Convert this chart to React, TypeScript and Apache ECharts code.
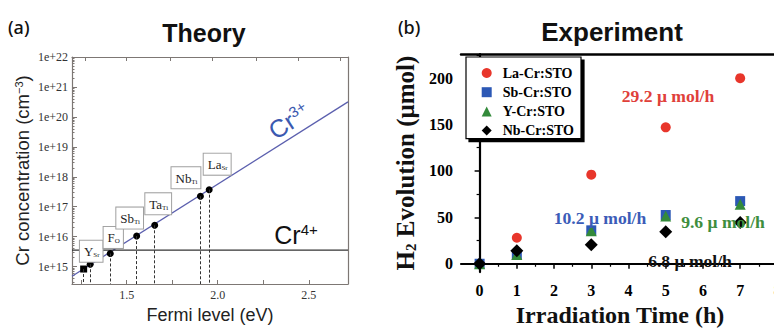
import { useEffect, useRef } from "react";
import * as echarts from "echarts";

// ---------- Panel (a) Theory ----------
const defectMain = ["Y", "F", "Sb", "Ta", "Nb", "La"];
const defectSub = ["Sr", "O", "Ti", "Ti", "Ti", "Sr"];
const defectFermi = [1.3, 1.41, 1.555, 1.654, 1.905, 1.953];
const defectLogConc = [15.08, 15.44, 16.02, 16.38, 17.35, 17.57];
const squareFermi = [1.264];
const squareLogConc = [14.92];
const cr3Fermi = [1.2, 2.715];
const cr3LogConc = [14.68, 20.5];
const cr4LogConc = 15.55;
const fermiLabelValues = [1.5, 2.0, 2.5];
const fermiTickValues = [1.25, 1.5, 1.75, 2.0, 2.25, 2.5];
const fermiTopTicks = [1.27, 1.5, 1.74, 1.97, 2.21, 2.44, 2.67];
const concExponents = [15, 16, 17, 18, 19, 20, 21, 22];

// ---------- Panel (b) Experiment ----------
const hours = [0, 1, 3, 5, 7];
const laCr = [0, 28, 96, 147, 200];
const sbCr = [0, 9.4, 36, 52.5, 67.5];
const yCr = [0, 10, 35.5, 51.5, 64];
const nbCr = [0, 14, 20.5, 34.5, 44.5];
const seriesNames = ["La-Cr:STO", "Sb-Cr:STO", "Y-Cr:STO", "Nb-Cr:STO"];
const timeLabels = [0, 1, 2, 3, 4, 5, 6, 7, 8];
const timeMinorTicks = [0.5, 1.5, 2.5, 3.5, 4.5, 5.5, 6.5, 7.5];
const evoLabels = [0, 50, 100, 150, 200];
const evoMinorTicks = [25, 75, 125, 175, 225];
const rateTexts = ["29.2 μ mol/h", "10.2 μ mol/h", "9.6 μ mol/h", "6.8 μ mol/h"];

const X_A_MIN = 1.2;
const X_A_MAX = 2.715;
const Y_A_MIN = 14.42;
const Y_A_MAX = 22;

const labelOffsets = [
  [1, -13],
  [3, -16],
  [-7, -18],
  [3.5, -21.5],
  [-14.5, -18.5],
  [8, -25.5],
];

const minorLogTicks: number[] = [];
for (let n = 14; n < 22; n++) {
  for (let k = 2; k <= 9; k++) {
    const v = n + Math.log10(k);
    if (v > Y_A_MIN && v < Y_A_MAX) minorLogTicks.push(v);
  }
}

const SERIF = "Liberation Serif";
const SANS = "Liberation Sans";

export default function App() {
  const ref = useRef<HTMLDivElement>(null);
  useEffect(() => {
    if (!ref.current) return;
    const chart = echarts.init(ref.current, undefined, { renderer: "svg" });
    const frameA = "#7d7774";

    const defectData = defectFermi.map((f, i) => ({
      value: [f, defectLogConc[i]],
      label: {
        offset: labelOffsets[i],
        formatter: `{m|${defectMain[i]}}{s|${defectSub[i]}}`,
      },
    }));
    const dropLines = (xs: number[], ys: number[]) =>
      xs.map((f, i) => [{ coord: [f, ys[i]] }, { coord: [f, Y_A_MIN] }]);

    const rateText = (txt: string, x: number, y: number, color: string) => ({
      type: "text",
      x,
      y,
      scaleX: 1.1,
      z: 50,
      zlevel: 1,
      style: {
        text: txt,
        fontFamily: SERIF,
        fontSize: 16,
        fontWeight: "bold",
        fill: color,
        textAlign: "center",
        textVerticalAlign: "middle",
      },
    });

    const option: any = {
      animation: false,
      backgroundColor: "#ffffff",
      grid: [
        { left: 72, top: 57, width: 276, height: 227, show: false },
        { left: 461, top: 54, width: 335, height: 230.3, show: false },
      ],
      legend: {
        data: seriesNames,
        orient: "vertical",
        left: 466,
        top: 57,
        itemWidth: 10,
        itemHeight: 10,
        itemGap: 5.2,
        padding: [9, 7, 1, 15.7],
        selectedMode: false,
        backgroundColor: "#fff",
        borderColor: "#000",
        borderWidth: 1.2,
        shadowColor: "#000",
        shadowOffsetX: 3,
        shadowOffsetY: 3,
        shadowBlur: 0,
        z: 10,
        textStyle: {
          fontFamily: SERIF,
          fontWeight: "bold",
          fontSize: 14,
          color: "#000",
          lineHeight: 12,
          padding: [0, 0, 0, 6],
        },
      },
      xAxis: [
        {
          gridIndex: 0,
          type: "value",
          position: "bottom",
          min: X_A_MIN,
          max: X_A_MAX,
          name: "Fermi level (eV)",
          nameLocation: "middle",
          nameGap: 21,
          nameTextStyle: { fontFamily: SANS, fontSize: 18, color: "#222" },
          axisLine: { show: true, lineStyle: { color: frameA, width: 1.2 } },
          axisTick: { show: true, inside: true, length: 4, customValues: fermiTickValues, lineStyle: { color: frameA } },
          axisLabel: {
            customValues: fermiLabelValues,
            formatter: (v: number) => v.toFixed(1),
            fontFamily: SERIF,
            fontSize: 12,
            color: "#333",
            margin: 5,
          },
          splitLine: { show: false },
        },
        {
          gridIndex: 0,
          type: "value",
          position: "top",
          min: X_A_MIN,
          max: X_A_MAX,
          axisLine: { show: true, lineStyle: { color: frameA, width: 1.2 } },
          axisTick: { show: true, inside: true, length: 4, customValues: fermiTopTicks, lineStyle: { color: frameA } },
          axisLabel: { show: false },
          splitLine: { show: false },
        },
        {
          gridIndex: 1,
          type: "value",
          position: "bottom",
          min: -0.5,
          max: 8.5,
          name: "Irradiation Time (h)",
          nameLocation: "middle",
          nameGap: 26,
          nameTextStyle: {
            fontFamily: SERIF,
            fontWeight: "bold",
            fontSize: 24,
            color: "#111",
            padding: [0, 17, 0, 0],
          },
          axisLine: { show: true, lineStyle: { color: "#000", width: 2.2 } },
          axisTick: { show: true, inside: false, length: 5, customValues: timeLabels, lineStyle: { color: "#000", width: 1.5 } },
          axisLabel: {
            customValues: timeLabels,
            fontFamily: SERIF,
            fontWeight: "bold",
            fontSize: 16,
            color: "#000",
            margin: 10,
          },
          splitLine: { show: false },
        },
        {
          gridIndex: 1,
          type: "value",
          position: "bottom",
          min: -0.5,
          max: 8.5,
          axisLine: { show: false },
          axisTick: { show: true, inside: false, length: 3, customValues: timeMinorTicks, lineStyle: { color: "#000", width: 1.2 } },
          axisLabel: { show: false },
          splitLine: { show: false },
        },
        {
          gridIndex: 1,
          type: "value",
          position: "top",
          min: -0.5,
          max: 8.5,
          axisLine: { show: true, lineStyle: { color: "#000", width: 2.5 } },
          axisTick: { show: false },
          axisLabel: { show: false },
          splitLine: { show: false },
        },
      ],
      yAxis: [
        {
          gridIndex: 0,
          type: "value",
          position: "left",
          min: Y_A_MIN,
          max: Y_A_MAX,
          name: "Cr concentration (cm{sup|−3})",
          nameLocation: "middle",
          nameGap: 40,
          nameTextStyle: {
            fontFamily: SANS,
            fontSize: 18.5,
            color: "#222",
            rich: { sup: { fontFamily: SANS, fontSize: 11, verticalAlign: "top", color: "#222" } },
          },
          axisLine: { show: true, lineStyle: { color: frameA, width: 1.2 } },
          axisTick: { show: true, inside: true, length: 5, customValues: concExponents, lineStyle: { color: frameA } },
          axisLabel: {
            customValues: concExponents,
            formatter: (v: number) => `1e+${Math.round(v)}`,
            fontFamily: SERIF,
            fontSize: 12,
            color: "#333",
            margin: 4,
          },
          splitLine: { show: false },
        },
        {
          gridIndex: 0,
          type: "value",
          position: "left",
          min: Y_A_MIN,
          max: Y_A_MAX,
          axisLine: { show: false },
          axisTick: { show: true, inside: true, length: 2.5, customValues: minorLogTicks, lineStyle: { color: frameA } },
          axisLabel: { show: false },
          splitLine: { show: false },
        },
        {
          gridIndex: 0,
          type: "value",
          position: "right",
          min: Y_A_MIN,
          max: Y_A_MAX,
          axisLine: { show: true, lineStyle: { color: frameA, width: 1.2 } },
          axisTick: { show: false },
          axisLabel: { show: false },
          splitLine: { show: false },
        },
        {
          gridIndex: 1,
          type: "value",
          position: "left",
          min: -9,
          max: 226,
          name: "H{sub|2} Evolution (μmol)",
          nameLocation: "middle",
          nameGap: 43,
          nameTextStyle: {
            fontFamily: SERIF,
            fontWeight: "bold",
            fontSize: 25,
            color: "#111",
            rich: { sub: { fontFamily: SERIF, fontWeight: "bold", fontSize: 15, verticalAlign: "bottom", color: "#111" } },
          },
          axisLine: { show: true, lineStyle: { color: "#000", width: 2.2 } },
          axisTick: { show: true, inside: false, length: 5, customValues: evoLabels, lineStyle: { color: "#000", width: 1.5 } },
          axisLabel: {
            customValues: evoLabels,
            fontFamily: SERIF,
            fontWeight: "bold",
            fontSize: 16,
            color: "#000",
            margin: 8,
          },
          splitLine: { show: false },
        },
        {
          gridIndex: 1,
          type: "value",
          position: "left",
          min: -9,
          max: 226,
          axisLine: { show: false },
          axisTick: { show: true, inside: false, length: 3, customValues: evoMinorTicks, lineStyle: { color: "#000", width: 1.2 } },
          axisLabel: { show: false },
          splitLine: { show: false },
        },
      ],
      series: [
        {
          name: "Cr3+",
          type: "line",
          xAxisIndex: 0,
          yAxisIndex: 0,
          data: cr3Fermi.map((f, i) => [f, cr3LogConc[i]]),
          symbol: "none",
          lineStyle: { color: "#5b5fae", width: 1.3 },
          z: 2,
        },
        {
          name: "Cr4+",
          type: "line",
          xAxisIndex: 0,
          yAxisIndex: 0,
          data: [
            [X_A_MIN, cr4LogConc],
            [X_A_MAX, cr4LogConc],
          ],
          symbol: "none",
          lineStyle: { color: "#333", width: 1.3 },
          z: 2,
        },
        {
          name: "defects",
          type: "scatter",
          xAxisIndex: 0,
          yAxisIndex: 0,
          symbol: "circle",
          symbolSize: 7,
          itemStyle: { color: "#000", opacity: 1 },
          data: defectData,
          z: 4,
          label: {
            show: true,
            position: "inside",
            backgroundColor: "#fff",
            borderColor: "#a0a0a0",
            borderWidth: 1,
            padding: [4, 3, 3, 4],
            rich: {
              m: { fontFamily: SERIF, fontSize: 13, color: "#222", lineHeight: 14 },
              s: { fontFamily: SERIF, fontSize: 7, color: "#222", verticalAlign: "bottom", lineHeight: 14 },
            },
          },
          markLine: {
            silent: true,
            symbol: "none",
            label: { show: false },
            lineStyle: { color: "#333", type: [3, 2], width: 1 },
            data: dropLines(defectFermi, defectLogConc),
          },
        },
        {
          name: "YSr-square",
          type: "scatter",
          xAxisIndex: 0,
          yAxisIndex: 0,
          symbol: "rect",
          symbolSize: 7,
          itemStyle: { color: "#000", opacity: 1 },
          data: squareFermi.map((f, i) => [f, squareLogConc[i]]),
          z: 4,
          markLine: {
            silent: true,
            symbol: "none",
            label: { show: false },
            lineStyle: { color: "#333", type: [3, 2], width: 1 },
            data: dropLines(squareFermi, squareLogConc),
          },
        },
        {
          name: seriesNames[0],
          type: "scatter",
          xAxisIndex: 2,
          yAxisIndex: 3,
          symbol: "circle",
          symbolSize: 10,
          itemStyle: { color: "#e8362b", opacity: 1 },
          data: hours.map((h, i) => [h, laCr[i]]),
        },
        {
          name: seriesNames[1],
          type: "scatter",
          xAxisIndex: 2,
          yAxisIndex: 3,
          symbol: "rect",
          symbolSize: 10,
          itemStyle: { color: "#2c58b5", opacity: 1 },
          data: hours.map((h, i) => [h, sbCr[i]]),
        },
        {
          name: seriesNames[2],
          type: "scatter",
          xAxisIndex: 2,
          yAxisIndex: 3,
          symbol: "triangle",
          symbolSize: 11,
          itemStyle: { color: "#338a3a", opacity: 1 },
          data: hours.map((h, i) => [h, yCr[i]]),
        },
        {
          name: seriesNames[3],
          type: "scatter",
          xAxisIndex: 2,
          yAxisIndex: 3,
          symbol: "diamond",
          symbolSize: 13,
          itemStyle: { color: "#000", opacity: 1 },
          data: hours.map((h, i) => [h, nbCr[i]]),
        },
      ],
      graphic: [
        {
          type: "text",
          x: 8,
          y: 27,
          style: { text: "(a)", fontFamily: "Noto Sans", fontSize: 18, fontWeight: 500, fill: "#111", textVerticalAlign: "middle" },
        },
        {
          type: "text",
          x: 204,
          y: 33,
          style: { text: "Theory", fontFamily: SANS, fontSize: 25, fontWeight: "bold", fill: "#111", textAlign: "center", textVerticalAlign: "middle" },
        },
        {
          type: "text",
          x: 398,
          y: 27,
          style: { text: "(b)", fontFamily: "Noto Sans", fontSize: 18, fontWeight: 500, fill: "#111", textVerticalAlign: "middle" },
        },
        {
          type: "text",
          x: 612,
          y: 32,
          style: { text: "Experiment", fontFamily: SANS, fontSize: 26, fontWeight: "bold", fill: "#111", textAlign: "center", textVerticalAlign: "middle" },
        },
        {
          type: "text",
          x: 289,
          y: 121,
          rotation: (33 * Math.PI) / 180,
          z: 20,
          style: {
            text: "{c|Cr}{s|3+}",
            textAlign: "center",
            textVerticalAlign: "middle",
            rich: {
              c: { fontFamily: SANS, fontSize: 25, fill: "#3b59b0", color: "#3b59b0", lineHeight: 26 },
              s: { fontFamily: SANS, fontSize: 15, fill: "#3b59b0", color: "#3b59b0", verticalAlign: "top", lineHeight: 26 },
            },
          },
        },
        {
          type: "text",
          x: 296,
          y: 235,
          z: 20,
          style: {
            text: "{c|Cr}{s|4+}",
            textAlign: "center",
            textVerticalAlign: "middle",
            rich: {
              c: { fontFamily: SANS, fontSize: 25, fill: "#111", color: "#111", lineHeight: 26 },
              s: { fontFamily: SANS, fontSize: 15, fill: "#111", color: "#111", verticalAlign: "top", lineHeight: 26 },
            },
          },
        },
        rateText(rateTexts[0], 668, 97, "#e0403a"),
        rateText(rateTexts[1], 600, 219, "#3b5cb8"),
        rateText(rateTexts[2], 723, 223, "#3e8e3e"),
        rateText(rateTexts[3], 690, 262, "#111"),
      ],
    };
    chart.setOption(option);
    return () => chart.dispose();
  }, []);
  return (
    <div
      ref={ref}
      style={{ position: "fixed", left: 0, top: 0, width: 810, height: 332, background: "#fff" }}
    />
  );
}
